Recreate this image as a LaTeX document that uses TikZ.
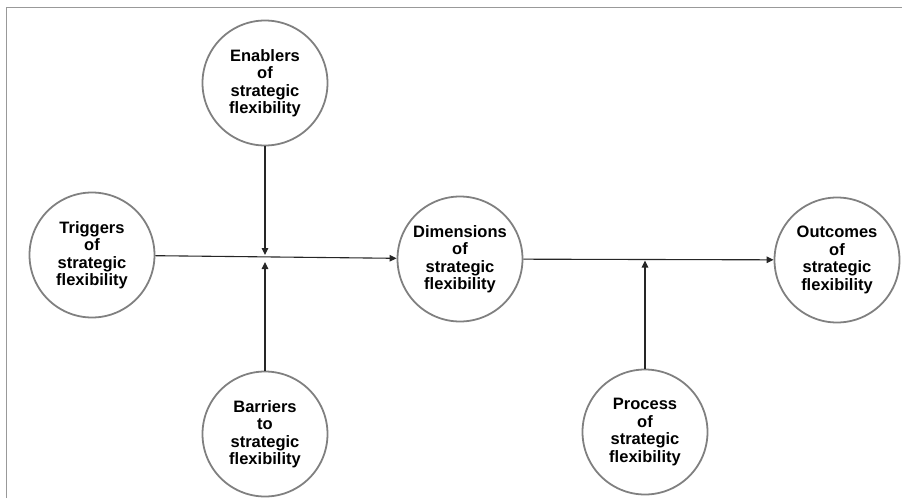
\documentclass[tikz,border=0pt]{standalone}
\usepackage{fontspec}
\setmainfont{Liberation Sans}
\usetikzlibrary{arrows.meta}
\begin{document}
\begin{tikzpicture}[x=1pt,y=-1pt,
  bubble/.style={circle,draw=black!50,line width=1.8pt,minimum size=125pt,inner sep=0pt,align=center,
    font=\bfseries\fontsize{16.5}{17.5}\selectfont},
  arr/.style={draw=black!85,line width=1.1pt,-{Triangle[length=7pt,width=6.5pt]}},
  frame/.style={draw=black!40,line width=1pt}]
\useasboundingbox (0,0) rectangle (902,498);
\draw[frame] (6,498) -- (6,7) -- (902,7);
\node[bubble] (en) at (265,83) {Enablers\\of\\strategic\\flexibility};
\node[bubble] (tr) at (92,255) {Triggers\\of\\strategic\\flexibility};
\node[bubble] (di) at (460,259) {Dimensions\\of\\strategic\\flexibility};
\node[bubble] (ou) at (837,260) {Outcomes\\of\\strategic\\flexibility};
\node[bubble] (ba) at (265,434) {Barriers\\to\\strategic\\flexibility};
\node[bubble] (pr) at (645,432) {Process\\of\\strategic\\flexibility};
\coordinate (j1) at (265,258.5);
\coordinate (j2) at (645,260.5);
\draw[arr] (tr) -- (di);
\draw[arr] (di) -- (ou);
\draw[arr] (en) -- ([yshift=3.5pt]j1);
\draw[arr] (ba) -- ([yshift=-3.5pt]j1);
\draw[arr] (pr) -- (j2);
\end{tikzpicture}
\end{document}
